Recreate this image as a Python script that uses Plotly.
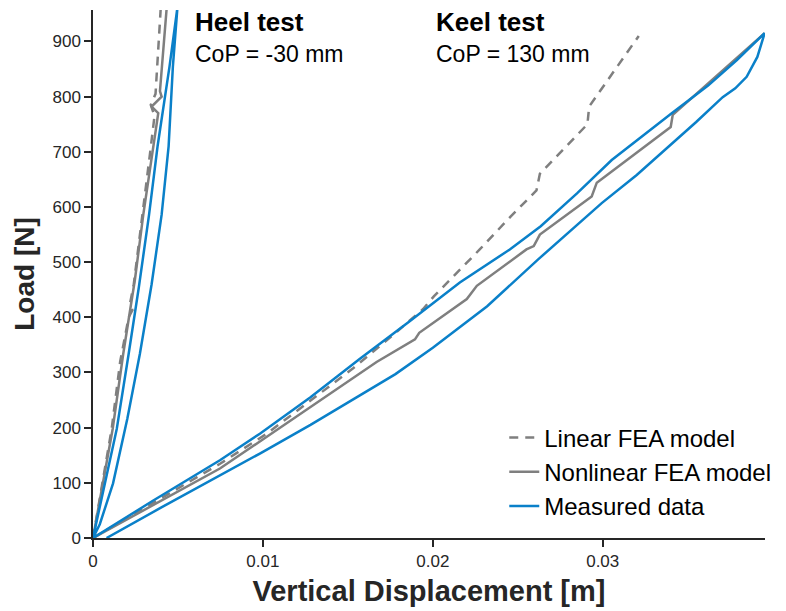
import plotly.graph_objects as go

# ---- Heel test (CoP = -30 mm) ----
heel_meas_x = [0, 0.0007, 0.0014, 0.0021, 0.0027, 0.0033, 0.0038, 0.0045, 0.00497,
               0.00470, 0.00445, 0.00404, 0.00345, 0.00276, 0.00202, 0.00118, 0.0004, 0]
heel_meas_y = [0, 99, 198, 334, 455, 586, 710, 854, 962,
               854, 710, 586, 460, 334, 216, 99, 25, 0]

heel_nl_x = [0, 0.00059, 0.00116, 0.00178, 0.00247, 0.00296, 0.00351, 0.00384,
             0.00345, 0.00404, 0.00394, 0.00432, 0.00434]
heel_nl_y = [0, 99, 198, 334, 469, 586, 703, 770, 782, 800, 810, 955, 962]

heel_lin_x = [0, 0.00055, 0.0011, 0.0016, 0.0021, 0.00232, 0.00218, 0.00240, 0.00290,
              0.00338, 0.00362, 0.00340, 0.00368, 0.00399]
heel_lin_y = [0, 99, 198, 320, 400, 413, 425, 460, 580, 703, 765, 785, 805, 962]

# ---- Keel test (CoP = 130 mm) ----
keel_meas_x = [0, 0.0035, 0.00747, 0.00982, 0.0128, 0.01571, 0.0186, 0.02159, 0.02453,
               0.02635, 0.0285, 0.03053, 0.03406, 0.0362, 0.03788, 0.03953,
               0.0391, 0.03847, 0.0378, 0.03706, 0.0355, 0.03388, 0.0320, 0.02994,
               0.0281, 0.0262, 0.0232, 0.0200, 0.0178, 0.01571, 0.0128,
               0.00982, 0.00747, 0.0040, 0.0008]
keel_meas_y = [0, 67, 141, 189, 255, 325, 392, 463, 523,
               565, 625, 685, 770, 820, 866, 915,
               872, 836, 815, 799, 754, 709, 658, 607,
               557, 505, 420, 345, 297, 258, 205,
               153, 114, 55, 0]

keel_nl_x = [0, 0.00747, 0.00982, 0.01669, 0.01895, 0.0192, 0.0220, 0.02259, 0.02551,
             0.02594, 0.0263, 0.02935, 0.02965, 0.0340, 0.03412, 0.03953]
keel_nl_y = [0, 126, 175, 319, 360, 372, 433, 457, 523,
             529, 550, 619, 644, 745, 767, 915]

keel_lin_x = [0, 0.0075, 0.01022, 0.01529, 0.01766, 0.01943, 0.02006, 0.02276, 0.02459,
              0.0261, 0.0263, 0.0291, 0.0292, 0.03212]
keel_lin_y = [0, 135, 189, 307, 368, 415, 438, 523, 583,
              630, 660, 750, 782, 910]

x_ticks = [0, 0.01, 0.02, 0.03]
x_tick_text = ["0", "0.01", "0.02", "0.03"]
y_ticks = [0, 100, 200, 300, 400, 500, 600, 700, 800, 900]

BLUE = "#0a80c9"
GRAY = "#7f7f7f"
INK = "#262626"
FONT = "Liberation Sans, Arial, Helvetica, sans-serif"
DASH = "9px,7px"

fig = go.Figure()

# Linear FEA model (dashed)
fig.add_trace(go.Scatter(x=heel_lin_x, y=heel_lin_y, mode="lines", name="Linear FEA model",
                         line=dict(color=GRAY, width=2.5, dash=DASH),
                         legendgroup="lin", showlegend=True))
fig.add_trace(go.Scatter(x=keel_lin_x, y=keel_lin_y, mode="lines", name="Linear FEA model",
                         line=dict(color=GRAY, width=2.5, dash=DASH),
                         legendgroup="lin", showlegend=False))

# Nonlinear FEA model (solid gray)
fig.add_trace(go.Scatter(x=heel_nl_x, y=heel_nl_y, mode="lines", name="Nonlinear FEA model",
                         line=dict(color=GRAY, width=2.5),
                         legendgroup="nl", showlegend=True))
fig.add_trace(go.Scatter(x=keel_nl_x, y=keel_nl_y, mode="lines", name="Nonlinear FEA model",
                         line=dict(color=GRAY, width=2.5),
                         legendgroup="nl", showlegend=False))

# Measured data (blue loading/unloading loops)
fig.add_trace(go.Scatter(x=heel_meas_x, y=heel_meas_y, mode="lines", name="Measured data",
                         line=dict(color=BLUE, width=2.5),
                         legendgroup="meas", showlegend=True))
fig.add_trace(go.Scatter(x=keel_meas_x, y=keel_meas_y, mode="lines", name="Measured data",
                         line=dict(color=BLUE, width=2.5),
                         legendgroup="meas", showlegend=False))

# Test labels
fig.add_annotation(x=0.00588, y=936, xref="x", yref="y", text="<b>Heel test</b>",
                   showarrow=False, xanchor="left", yanchor="middle",
                   font=dict(family=FONT, size=26, color="#000000"))
fig.add_annotation(x=0.00590, y=878, xref="x", yref="y", text="CoP = -30 mm",
                   showarrow=False, xanchor="left", yanchor="middle",
                   font=dict(family=FONT, size=23, color="#000000"))
fig.add_annotation(x=0.02006, y=936, xref="x", yref="y", text="<b>Keel test</b>",
                   showarrow=False, xanchor="left", yanchor="middle",
                   font=dict(family=FONT, size=26, color="#000000"))
fig.add_annotation(x=0.02008, y=878, xref="x", yref="y", text="CoP = 130 mm",
                   showarrow=False, xanchor="left", yanchor="middle",
                   font=dict(family=FONT, size=23, color="#000000"))

fig.update_layout(
    width=786, height=611,
    margin=dict(l=93, r=21, t=10, b=73, autoexpand=False),
    paper_bgcolor="white", plot_bgcolor="white",
    font=dict(family=FONT, color=INK),
    legend=dict(x=0.612, y=0.232, xanchor="left", yanchor="top",
                bgcolor="rgba(0,0,0,0)", font=dict(family=FONT, size=24, color="#000000"),
                tracegroupgap=0),
    xaxis=dict(range=[0, 0.03955], tickvals=x_ticks, ticktext=x_tick_text,
               showline=True, linecolor=INK, linewidth=1.5, mirror=False,
               ticks="outside", ticklen=7, tickwidth=1.5, tickcolor=INK,
               showgrid=False, zeroline=False,
               tickfont=dict(family=FONT, size=17, color=INK),
               title=dict(text="<b>Vertical Displacement [m]</b>", standoff=11,
                          font=dict(family=FONT, size=29, color=INK))),
    yaxis=dict(range=[0, 957], tickvals=y_ticks,
               showline=True, linecolor=INK, linewidth=1.5, mirror=False,
               ticks="outside", ticklen=7, tickwidth=1.5, tickcolor=INK,
               showgrid=False, zeroline=False,
               tickfont=dict(family=FONT, size=17, color=INK),
               title=dict(text="<b>Load [N]</b>", standoff=10,
                          font=dict(family=FONT, size=28, color=INK))),
)

fig.write_html("out.html")
